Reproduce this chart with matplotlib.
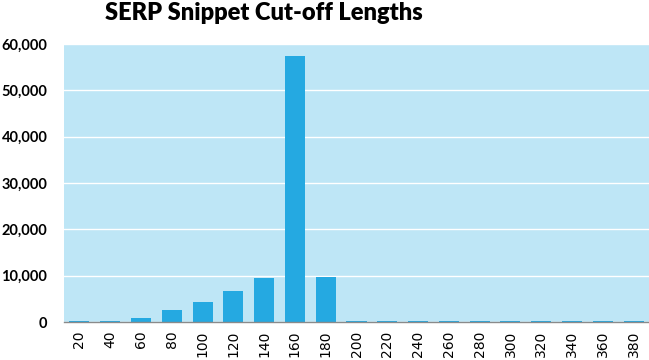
import matplotlib
matplotlib.use('Agg')
import matplotlib.pyplot as plt
from matplotlib.ticker import FuncFormatter

# --- Data ---
lengths = [20, 40, 60, 80, 100, 120, 140, 160, 180, 200,
           220, 240, 260, 280, 300, 320, 340, 360, 380]
counts = [300, 300, 900, 2600, 4300, 6700, 9500, 57450, 9700, 250,
          250, 250, 250, 250, 250, 250, 250, 250, 250]

BAR_COLOR = '#25A9E1'
BG_COLOR = '#BEE6F6'

fig = plt.figure(figsize=(6.49, 3.6), dpi=100)
ax = fig.add_axes([64 / 649, 38 / 360, 585 / 649, 278 / 360])
ax.set_facecolor(BG_COLOR)

x = list(range(len(lengths)))
ax.bar(x, counts, width=0.65, color=BAR_COLOR, zorder=3)

ax.set_xlim(-0.5, len(lengths) - 0.5)
ax.set_ylim(0, 60000)
ax.set_yticks(range(0, 60001, 10000))
ax.yaxis.set_major_formatter(FuncFormatter(lambda v, p: f'{int(v):,}'))
ax.set_xticks(x)
ax.set_xticklabels([str(v) for v in lengths], rotation=90, fontsize=10,
                   family='DejaVu Sans')

ax.grid(axis='y', color='white', linewidth=1, zorder=1)
ax.tick_params(axis='both', length=0)
ax.tick_params(axis='y', pad=12, labelsize=10.5)
ax.tick_params(axis='x', pad=6)
for lbl in ax.get_yticklabels():
    lbl.set_family('Lato')
    lbl.set_fontweight('bold')

for side in ['top', 'right', 'left']:
    ax.spines[side].set_visible(False)
ax.spines['bottom'].set_color('#8a8a8a')
ax.spines['bottom'].set_linewidth(1)
ax.spines['bottom'].set_zorder(4)

fig.suptitle('SERP Snippet Cut-off Lengths', x=0.407, y=0.995, va='top',
             fontsize=17, family='Lato', fontweight='heavy')

fig.savefig('out.png', dpi=100)
